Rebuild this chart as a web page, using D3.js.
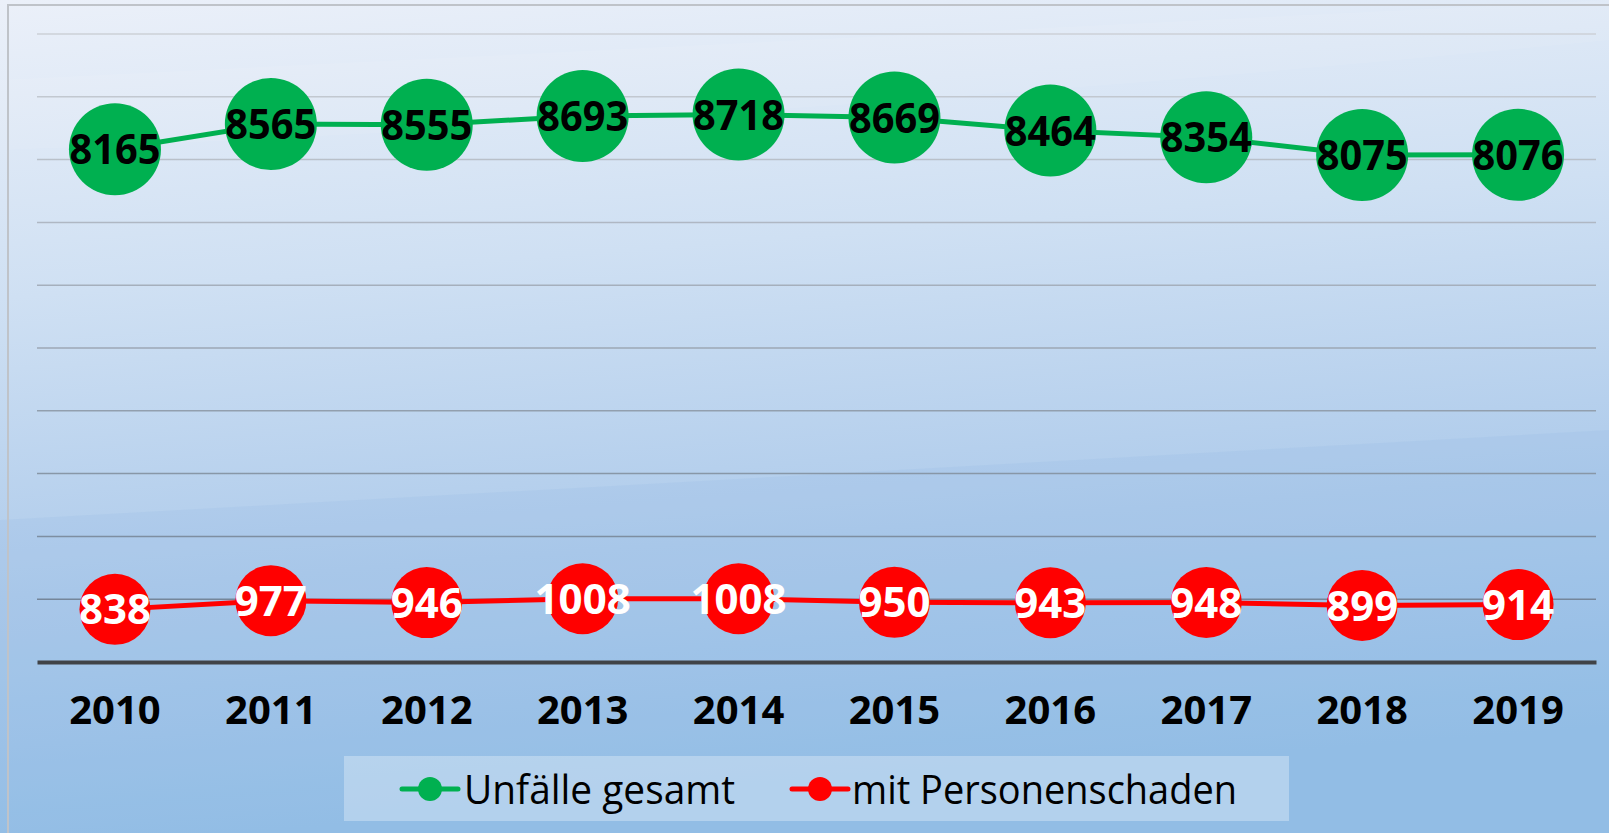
<!DOCTYPE html>
<html>
<head>
<meta charset="utf-8">
<script src="https://cdn.jsdelivr.net/npm/d3@7"></script>
<style>
  html, body { margin: 0; padding: 0; overflow: hidden; }
  svg { display: block; }
</style>
</head>
<body>
<div id="chart"></div>
<script>
var
    width = 1609,
    height = 833;

var years = ["2010","2011","2012","2013","2014","2015","2016","2017","2018","2019"];
var gesamt = [8165, 8565, 8555, 8693, 8718, 8669, 8464, 8354, 8075, 8076];
var personen = [838, 977, 946, 1008, 1008, 950, 943, 948, 899, 914];
var seriesNames = ["Unfälle gesamt", "mit Personenschaden"];
var yTicks = d3.range(0, 10001, 1000);

var svg = d3.select("#chart")
        .append("svg")
        .attr("width", width)
        .attr("height", height);

var defs = svg.append("defs");

// background gradient
var bg = defs.append("linearGradient")
    .attr("id", "bg")
    .attr("x1", 0).attr("y1", 0).attr("x2", 0.15).attr("y2", 1);
bg.append("stop").attr("offset", "0%").attr("stop-color", "#ebf0f9");
bg.append("stop").attr("offset", "35%").attr("stop-color", "#cfe0f3");
bg.append("stop").attr("offset", "70%").attr("stop-color", "#aecbeb");
bg.append("stop").attr("offset", "100%").attr("stop-color", "#93bfe6");

svg.append("rect")
    .attr("width", width).attr("height", height)
    .attr("fill", "url(#bg)");

// soft diagonal streaks
svg.append("path")
    .attr("d", "M0,80 L1609,0 L1609,40 Q800,120 0,150 Z")
    .attr("fill", "#ffffff").attr("opacity", 0.08);
svg.append("path")
    .attr("d", "M0,520 Q900,470 1609,430 L1609,833 L0,833 Z")
    .attr("fill", "#8fb9e2").attr("opacity", 0.18);

// frame
svg.append("rect")
    .attr("x", 8).attr("y", 5)
    .attr("width", width).attr("height", height)
    .attr("fill", "none")
    .attr("stroke", "#bfc3c9")
    .attr("stroke-width", 2);

var margin = {left: 37, right: 13, top: 34, bottom: 171};

var x = d3.scaleBand()
    .domain(years)
    .range([margin.left, width - margin.right]);

var y = d3.scaleLinear()
    .domain([0, 10000])
    .range([height - margin.bottom, margin.top]);

var gridColor = d3.scaleLinear()
    .domain([10000, 0])
    .range(["#ccd0d7", "#6b7e93"]);

// gridlines
svg.append("g")
    .attr("class", "grid")
  .selectAll("line")
    .data(yTicks.filter(function(d) { return d > 0; }))
  .enter().append("line")
    .attr("x1", margin.left)
    .attr("x2", width - margin.right)
    .attr("y1", function(d) { return y(d); })
    .attr("y2", function(d) { return y(d); })
    .attr("stroke", function(d) { return gridColor(d); })
    .attr("stroke-width", 1.5);

// x axis
var xAxis = svg.append("g")
    .attr("transform", "translate(0," + y(0) + ")")
    .call(d3.axisBottom(x).tickSize(0).tickPadding(34));
xAxis.select(".domain")
    .attr("stroke", "#404347")
    .attr("stroke-width", 4);
xAxis.selectAll("text")
    .attr("font-family", "'Open Sans', sans-serif")
    .attr("font-weight", "bold")
    .attr("font-size", 40)
    .attr("fill", "#000");

var line = d3.line()
    .x(function(d, i) { return x(years[i]) + x.bandwidth() / 2; })
    .y(function(d) { return y(d); });

function drawSeries(values, color, r, textColor) {
  var g = svg.append("g");
  g.append("path")
      .datum(values)
      .attr("fill", "none")
      .attr("stroke", color)
      .attr("stroke-width", 5)
      .attr("d", line);

  g.selectAll("circle")
      .data(values)
    .enter().append("circle")
      .attr("cx", function(d, i) { return x(years[i]) + x.bandwidth() / 2; })
      .attr("cy", function(d) { return y(d); })
      .attr("r", r)
      .attr("fill", color);

  g.selectAll("text")
      .data(values)
    .enter().append("text")
      .attr("x", function(d, i) { return x(years[i]) + x.bandwidth() / 2; })
      .attr("y", function(d) { return y(d); })
      .attr("dy", "0.36em")
      .attr("text-anchor", "middle")
      .attr("font-family", "'Open Sans', sans-serif")
      .attr("font-weight", "bold")
      .attr("font-size", 42)
      .attr("fill", textColor)
      .attr("textLength", String(values[0]).length === 4 ? 91 : null)
      .attr("lengthAdjust", "spacingAndGlyphs")
      .text(function(d) { return d; });
}

drawSeries(gesamt, "#00b050", 46, "#000");
drawSeries(personen, "#ff0000", 35.5, "#fff");

// legend
var legend = svg.append("g");
legend.append("rect")
    .attr("x", 344).attr("y", 756)
    .attr("width", 945).attr("height", 65)
    .attr("fill", "#ffffff").attr("opacity", 0.3);

var legendItems = [
  {name: seriesNames[0], color: "#00b050", mx: 402, tx: 464, tw: 271},
  {name: seriesNames[1], color: "#ff0000", mx: 792, tx: 852, tw: 385}
];

legendItems.forEach(function(d) {
  legend.append("line")
      .attr("x1", d.mx).attr("x2", d.mx + 56)
      .attr("y1", 789).attr("y2", 789)
      .attr("stroke", d.color)
      .attr("stroke-width", 5)
      .attr("stroke-linecap", "round");
  legend.append("circle")
      .attr("cx", d.mx + 28).attr("cy", 789)
      .attr("r", 12)
      .attr("fill", d.color);
  legend.append("text")
      .attr("x", d.tx).attr("y", 789)
      .attr("dy", "0.36em")
      .attr("font-family", "'Open Sans', sans-serif")
      .attr("font-size", 41)
      .attr("fill", "#000")
      .attr("textLength", d.tw)
      .attr("lengthAdjust", "spacingAndGlyphs")
      .text(d.name);
});
</script>
</body>
</html>
